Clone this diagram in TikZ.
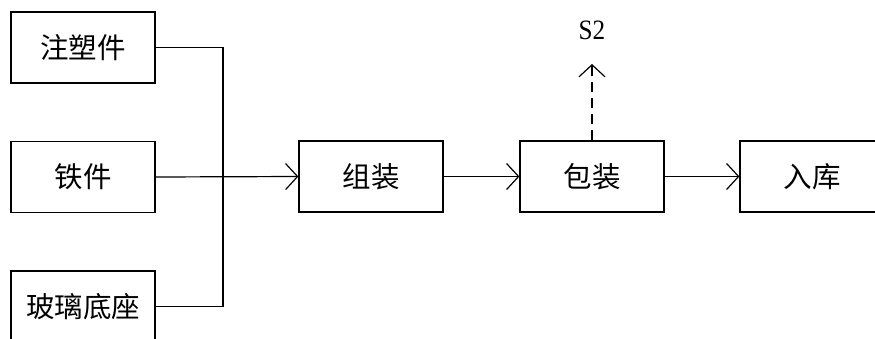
\documentclass[tikz,border=0pt]{standalone}
\usepackage{fontspec}
\setmainfont{Liberation Serif}
\newfontfamily\cjk{Noto Sans CJK SC}
\usetikzlibrary{arrows.meta}
\tikzset{
  procbox/.style={draw, line width=1.2pt, minimum width=144pt, minimum height=71pt, inner sep=0pt, font=\cjk\fontsize{28.5}{32}\selectfont},
  conn/.style={line width=1.2pt},
  arr/.style={conn, -{Straight Barb[length=12pt, width=26pt, line width=1.2pt]}},
  dasharr/.style={arr, dash pattern=on 10pt off 6pt}
}
\begin{document}
\begin{tikzpicture}[x=1pt, y=-1pt]
\clip (0,0) rectangle (875,338);
\fill[white] (0,0) rectangle (875,338);
\node[procbox] (zs) at (83,47.5) {注塑件};
\node[procbox] (tj) at (83,177) {铁件};
\node[procbox] (bl) at (83,306.5) {玻璃底座};
\node[procbox] (zz) at (371,176.5) {组装};
\node[procbox] (bz) at (592,176.5) {包装};
\node[procbox] (rk) at (812,176.5) {入库};
\coordinate (j) at (223,177);
\coordinate (s2tip) at (592,64);
\node[font=\fontsize{28}{32}\selectfont, inner sep=0pt, xscale=0.9] (s2) at (592,30) {S2};
\draw[conn] (zs.east) -| (j);
\draw[conn] (bl.east) -| (j);
\draw[arr] (tj.east) -- (zz.west);
\draw[arr] (zz.east) -- (bz.west);
\draw[arr] (bz.east) -- (rk.west);
\draw[dasharr] (bz.north) -- (s2tip);
\end{tikzpicture}
\end{document}
